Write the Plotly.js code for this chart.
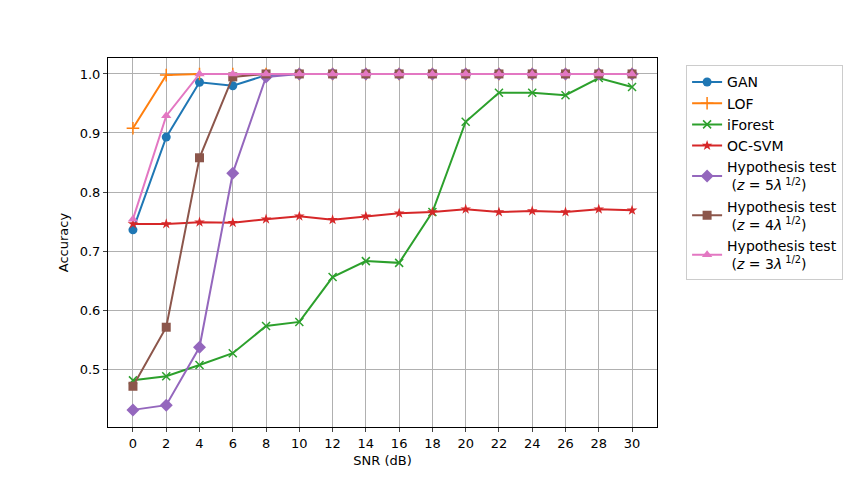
<!DOCTYPE html>
<html>
<head>
<meta charset="utf-8">
<script src="https://cdn.plot.ly/plotly-3.0.1.min.js"></script>
<style>body{margin:0;background:#fff;}#graph-container{width:864px;height:480px;}</style>
</head>
<body>
<div id="graph-container"></div>
<script>
// SNR values (dB)
var snr = [0, 2, 4, 6, 8, 10, 12, 14, 16, 18, 20, 22, 24, 26, 28, 30];

// accuracy per method
var gan =     [0.736, 0.893, 0.986, 0.980, 0.998, 1.0, 1.0, 1.0, 1.0, 1.0, 1.0, 1.0, 1.0, 1.0, 1.0, 1.0];
var lof =     [0.908, 0.998, 1.0, 1.0, 1.0, 1.0, 1.0, 1.0, 1.0, 1.0, 1.0, 1.0, 1.0, 1.0, 1.0, 1.0];
var iforest = [0.481, 0.488, 0.507, 0.527, 0.573, 0.580, 0.656, 0.683, 0.680, 0.766, 0.919, 0.968, 0.968, 0.964, 0.993, 0.978];
var ocsvm =   [0.746, 0.746, 0.749, 0.748, 0.754, 0.759, 0.753, 0.759, 0.764, 0.766, 0.771, 0.766, 0.768, 0.766, 0.771, 0.769];
var hypZ5 =   [0.431, 0.439, 0.537, 0.832, 0.995, 1.0, 1.0, 1.0, 1.0, 1.0, 1.0, 1.0, 1.0, 1.0, 1.0, 1.0];
var hypZ4 =   [0.471, 0.571, 0.858, 0.995, 1.0, 1.0, 1.0, 1.0, 1.0, 1.0, 1.0, 1.0, 1.0, 1.0, 1.0, 1.0];
var hypZ3 =   [0.754, 0.929, 1.0, 1.0, 1.0, 1.0, 1.0, 1.0, 1.0, 1.0, 1.0, 1.0, 1.0, 1.0, 1.0, 1.0];

var xTicks = snr.map(String);
var yTicks = [0.5, 0.6, 0.7, 0.8, 0.9, 1.0];
var yTickText = ['0.5', '0.6', '0.7', '0.8', '0.9', '1.0'];

function series(name, y, color, symbol, size, thin) {
    return {
        x: snr,
        y: y,
        name: name,
        type: 'scatter',
        mode: 'lines+markers',
        line: {color: color, width: 2},
        marker: {
            color: color,
            symbol: symbol,
            size: size,
            line: {color: color, width: thin ? 1.5 : 0}
        }
    };
}

var data = [
    series('GAN', gan, '#1f77b4', 'circle', 9, false),
    series('LOF', lof, '#ff7f0e', 'cross-thin', 9, true),
    series('iForest', iforest, '#2ca02c', 'x-thin', 8, true),
    series('OC-SVM', ocsvm, '#d62728', 'star', 8, false),
    series('Hypothesis test<br> (<i>z</i> = 5<i>λ</i><sup> 1/2</sup>)', hypZ5, '#9467bd', 'diamond', 10, false),
    series('Hypothesis test<br> (<i>z</i> = 4<i>λ</i><sup> 1/2</sup>)', hypZ4, '#8c564b', 'square', 9, false),
    series('Hypothesis test<br> (<i>z</i> = 3<i>λ</i><sup> 1/2</sup>)', hypZ3, '#e377c2', 'triangle-up', 9, false)
];

var layout = {
    width: 864,
    height: 480,
    paper_bgcolor: '#fff',
    plot_bgcolor: '#fff',
    font: {family: 'DejaVu Sans', size: 13, color: '#000'},
    margin: {l: 108, r: 207, t: 58, b: 53},
    xaxis: {
        title: {text: 'SNR (dB)', standoff: 6, font: {size: 13}},
        range: [-1.5, 31.5],
        tickvals: snr,
        ticktext: xTicks,
        ticks: 'outside',
        ticklen: 4,
        showgrid: true,
        gridcolor: '#b0b0b0',
        gridwidth: 1,
        zeroline: false,
        showline: true,
        linecolor: '#000',
        linewidth: 1,
        mirror: true
    },
    yaxis: {
        title: {text: 'Accuracy', standoff: 8, font: {size: 13}},
        range: [0.402, 1.027],
        tickvals: yTicks,
        ticktext: yTickText,
        ticks: 'outside',
        ticklen: 4,
        showgrid: true,
        gridcolor: '#b0b0b0',
        gridwidth: 1,
        zeroline: false,
        showline: true,
        linecolor: '#000',
        linewidth: 1,
        mirror: true
    },
    legend: {
        x: 1.053,
        y: 0.98,
        xanchor: 'left',
        yanchor: 'top',
        bordercolor: '#cccccc',
        borderwidth: 1,
        font: {size: 14},
        tracegroupgap: 0
    }
};

Plotly.newPlot('graph-container', data, layout, {displayModeBar: false});
</script>
</body>
</html>
